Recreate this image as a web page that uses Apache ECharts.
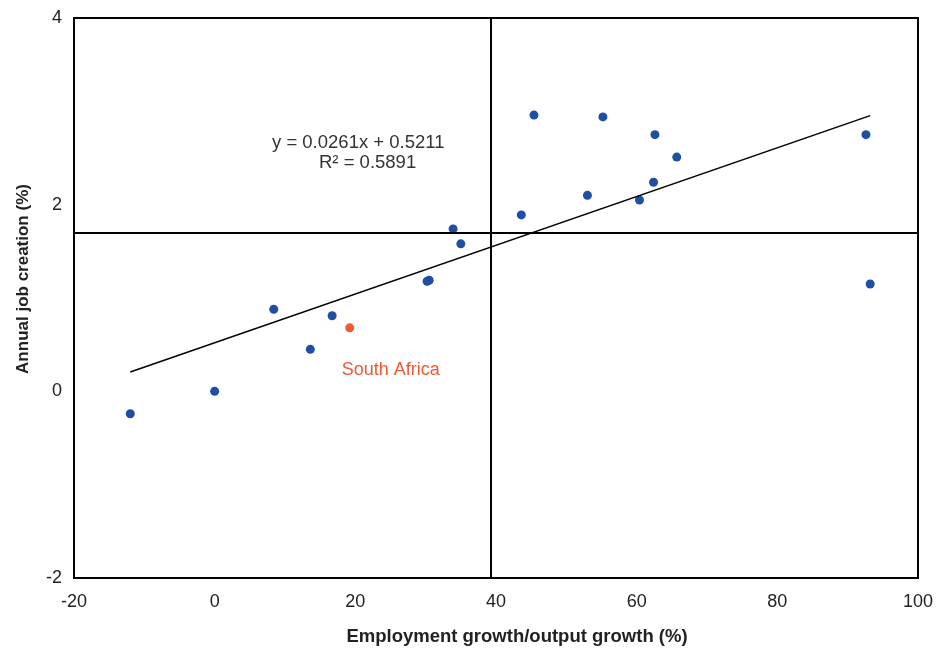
<!DOCTYPE html>
<html><head><meta charset="utf-8">
<script src="https://cdn.jsdelivr.net/npm/echarts@6/dist/echarts.min.js"></script>
<style>html,body{margin:0;padding:0;background:#fff}#c{width:942px;height:651px}</style>
</head><body><div id="c"></div>
<script>
// Data
const countryX = [-12.0, 0.0, 8.4, 13.6, 16.7, 30.2, 30.5, 33.9, 35.0, 43.6, 45.4, 53.0, 55.2, 60.4, 62.6, 62.4, 65.7, 92.6, 93.2];
const countryY = [-0.24, 0.0, 0.88, 0.45, 0.81, 1.18, 1.19, 1.74, 1.58, 1.89, 2.96, 2.10, 2.94, 2.05, 2.75, 2.24, 2.51, 2.75, 1.15];
const saX = [19.2];
const saY = [0.68];
const saName = 'South Africa';
const slope = 0.0261;
const intercept = 0.5211;
const r2 = 0.5891;
const avgX = 39.3;   // vertical reference line
const avgY = 1.70;   // horizontal reference line
const xTicks = [-20, 0, 20, 40, 60, 80, 100];
const yTicks = [-2, 0, 2, 4];

const FONT = '"Liberation Sans", Arial, sans-serif';
const allX = countryX.concat(saX);
const xMin = Math.min(...allX), xMax = Math.max(...allX);
const trend = [[xMin, slope * xMin + intercept], [xMax, slope * xMax + intercept]];

const chart = echarts.init(document.getElementById('c'));
chart.setOption({
  animation: false,
  backgroundColor: '#fff',
  grid: { left: 74, right: 24, top: 18, bottom: 70, show: true, borderColor: '#000', borderWidth: 2 },
  xAxis: {
    type: 'value', min: xTicks[0], max: xTicks[xTicks.length - 1], interval: 20,
    axisLine: { onZero: false, lineStyle: { color: '#000', width: 2 } },
    axisTick: { show: false }, splitLine: { show: false },
    axisLabel: { color: '#222', fontSize: 18, fontFamily: FONT, margin: 15 },
    name: 'Employment growth/output growth (%)', nameLocation: 'middle', nameGap: 49,
    nameTextStyle: { color: '#222', fontSize: 18.5, fontWeight: 'bold', fontFamily: FONT, padding: [0, 0, 0, 42] }
  },
  yAxis: {
    type: 'value', min: yTicks[0], max: yTicks[yTicks.length - 1], interval: 2,
    axisLine: { onZero: false, lineStyle: { color: '#000', width: 2 } },
    axisTick: { show: false }, splitLine: { show: false },
    axisLabel: { color: '#222', fontSize: 18, fontFamily: FONT, margin: 12 },
    name: 'Annual job creation (%)', nameLocation: 'middle', nameGap: 42,
    nameTextStyle: { color: '#222', fontSize: 17, fontWeight: 'bold', fontFamily: FONT, padding: [0, 0, 0, 38] }
  },
  series: [
    {
      type: 'line', data: trend, symbol: 'none', silent: true,
      lineStyle: { color: '#000', width: 1.5 },
      markLine: {
        silent: true, symbol: 'none', label: { show: false },
        lineStyle: { color: '#000', width: 2, type: 'solid' },
        data: [{ xAxis: avgX }, { yAxis: avgY }]
      }
    },
    {
      type: 'scatter', data: countryX.map((x, i) => [x, countryY[i]]),
      symbolSize: 9, itemStyle: { color: '#1f4fa3', opacity: 1 }
    },
    {
      type: 'scatter', data: saX.map((x, i) => [x, saY[i]]),
      symbolSize: 9, itemStyle: { color: '#ee5a32', opacity: 1 },
      label: { show: true, formatter: saName, position: 'inside', offset: [41, 42],
               color: '#ee5a32', fontSize: 18, fontFamily: FONT }
    }
  ],
  graphic: [
    { type: 'text', left: 359 - 87, top: 133,
      style: { text: 'y = ' + slope + 'x + ' + intercept, fontSize: 18.5, fontFamily: FONT, fill: '#333' } },
    { type: 'text', left: 367 - 48, top: 153,
      style: { text: 'R² = ' + r2, fontSize: 18.5, fontFamily: FONT, fill: '#333' } }
  ]
});
</script></body></html>
